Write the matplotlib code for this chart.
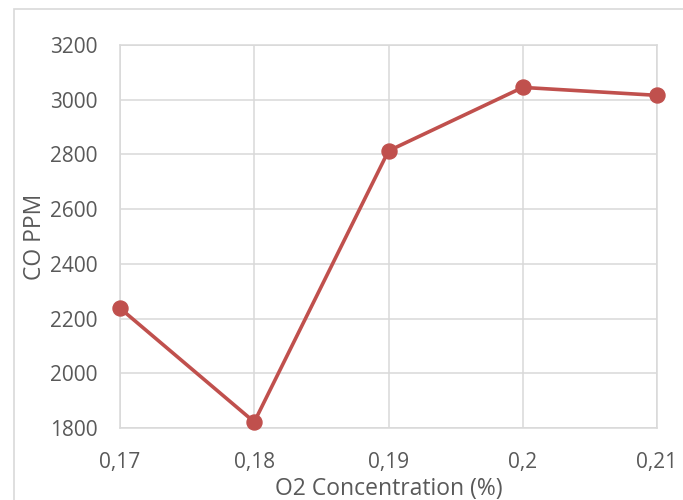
import matplotlib.pyplot as plt
from matplotlib.patches import Rectangle

# O2 concentration categories and measured CO
o2_labels = ['0,17', '0,18', '0,19', '0,2', '0,21']
co_ppm = [2238, 1822, 2813, 3045, 3016]
y_ticks = [1800, 2000, 2200, 2400, 2600, 2800, 3000, 3200]

plt.rcParams['font.family'] = ['Open Sans', 'DejaVu Sans']
TEXT = '#595959'
GRID = '#d9d9d9'
RED = '#c0504d'

fig = plt.figure(figsize=(6.83, 5.0), dpi=100)
ax = fig.add_axes([120 / 683, 1 - 428 / 500, 537 / 683, 383 / 500])

x = list(range(len(o2_labels)))
ax.plot(x, co_ppm, color=RED, lw=2.6, marker='o', markersize=10.8,
        solid_capstyle='round', clip_on=False, zorder=3)

ax.set_xlim(0, len(o2_labels) - 1)
ax.set_ylim(1800, 3200)
ax.set_xticks(x)
ax.set_xticklabels(o2_labels)
ax.set_yticks(y_ticks)
ax.grid(True, color=GRID, lw=1.1)
ax.set_axisbelow(True)
for s in ax.spines.values():
    s.set_color(GRID)
    s.set_linewidth(1.1)
ax.tick_params(length=0, labelsize=15, colors=TEXT)
ax.tick_params(axis='y', pad=16)
ax.tick_params(axis='x', pad=17)

ax.set_xlabel('O2 Concentration (%)', fontsize=16.5, color=TEXT, labelpad=3)
ax.set_ylabel('CO PPM', fontsize=16.5, color=TEXT, labelpad=2)

# chart frame
fig.patches.append(Rectangle((14 / 683, -0.1), 2, 0.1 + 1 - 9 / 500,
                             transform=fig.transFigure, fill=False,
                             edgecolor=GRID, lw=1.2))

fig.savefig('out.png', dpi=100)
